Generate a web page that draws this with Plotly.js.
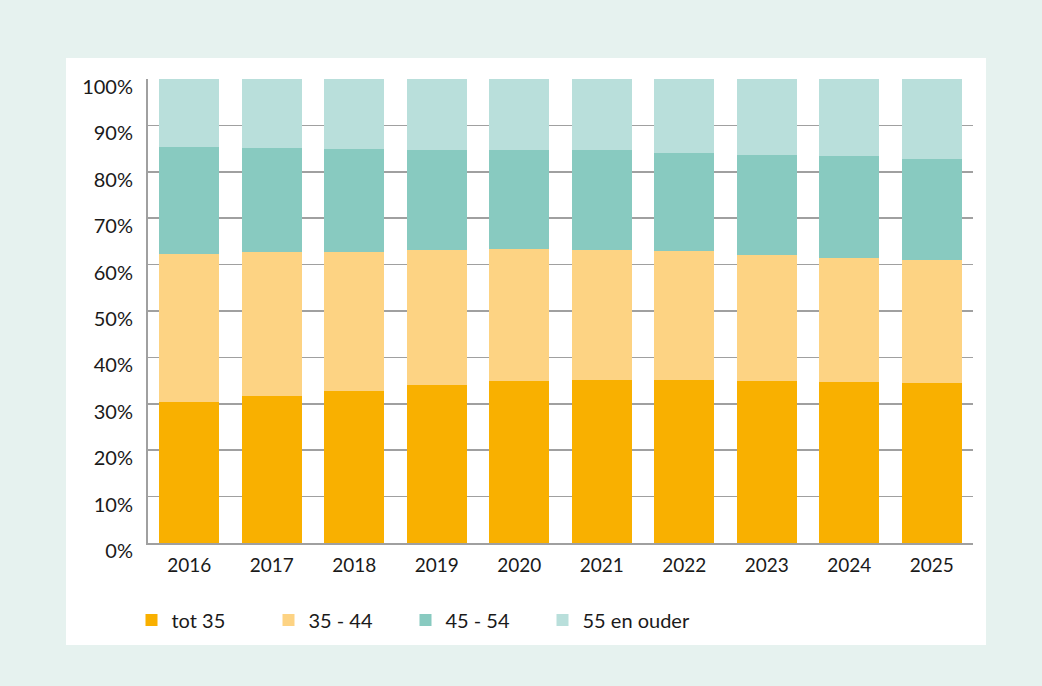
<!DOCTYPE html>
<html>
<head>
<meta charset="utf-8">
<script src="https://cdn.plot.ly/plotly-3.0.1.min.js"></script>
<style>html,body{margin:0;padding:0;background:#e6f2ef;}#chart{width:1042px;height:686px;}</style>
</head>
<body>
<div id="chart"></div>
<script>
var years = ['2016','2017','2018','2019','2020','2021','2022','2023','2024','2025'];
var seriesNames = ['tot 35','35 - 44','45 - 54','55 en ouder'];
var tot35   = [30.4, 31.7, 32.8, 34.1, 35.0, 35.2, 35.2, 35.0, 34.8, 34.4];
var s35_44  = [31.9, 31.1, 30.0, 29.1, 28.4, 28.0, 27.8, 27.1, 26.7, 26.7];
var s45_54  = [23.1, 22.4, 22.2, 21.6, 21.4, 21.4, 21.1, 21.6, 21.8, 21.7];
var s55plus = [14.6, 14.8, 15.0, 15.2, 15.2, 15.4, 15.9, 16.3, 16.7, 17.2];
var yTicks = [0,10,20,30,40,50,60,70,80,90,100];
var colors = ['#f9b000','#fdd383','#88cac0','#b9dfdb'];
var legendWidths = [92, 92, 92, 160];

var allSeries = [tot35, s35_44, s45_54, s55plus];
var traces = allSeries.map(function(vals, i){
  return {
    type: 'bar', name: seriesNames[i], x: years, y: vals,
    marker: {color: colors[i], line: {width: 0}},
    legendwidth: legendWidths[i],
    hoverinfo: 'x+y+name'
  };
});

var font = 'Lato, "Open Sans", sans-serif';
var layout = {
  width: 1042, height: 686,
  barmode: 'stack', bargap: 0.273,
  paper_bgcolor: '#e6f2ef', plot_bgcolor: '#ffffff',
  margin: {l: 148, r: 69, t: 79, b: 143},
  font: {family: font, color: '#1a1a1a', size: 19},
  xaxis: {
    type: 'category', tickmode: 'array', tickvals: years, ticktext: years,
    showgrid: false, showline: true, linecolor: '#a0a0a0', linewidth: 2,
    ticks: '', tickfont: {size: 19, family: font, color: '#1a1a1a'},
    ticklabelstandoff: 4, fixedrange: true
  },
  yaxis: {
    range: [0, 100], tickvals: yTicks, ticktext: yTicks.map(function(v){return v + '%';}),
    showgrid: true, gridcolor: '#a0a0a0', gridwidth: 1.5,
    showline: true, linecolor: '#a0a0a0', linewidth: 2,
    zeroline: false, ticks: '', ticklabelstandoff: 9, ticklabelshift: 8,
    tickfont: {size: 20, family: font, color: '#1a1a1a'}, fixedrange: true
  },
  showlegend: true,
  legend: {
    orientation: 'h', x: -0.02, xanchor: 'left', y: -0.166, yanchor: 'middle',
    traceorder: 'normal',
    font: {size: 20, family: font, color: '#1a1a1a'}, bgcolor: 'rgba(0,0,0,0)'
  },
  shapes: [{
    type: 'rect', xref: 'paper', yref: 'paper', layer: 'below',
    x0: (66-148)/825, x1: (986-148)/825, y0: (543-645)/464, y1: (543-58)/464,
    fillcolor: '#ffffff', line: {width: 0}
  }]
};

Plotly.newPlot('chart', traces, layout, {displayModeBar: false, staticPlot: true});
</script>
</body>
</html>
